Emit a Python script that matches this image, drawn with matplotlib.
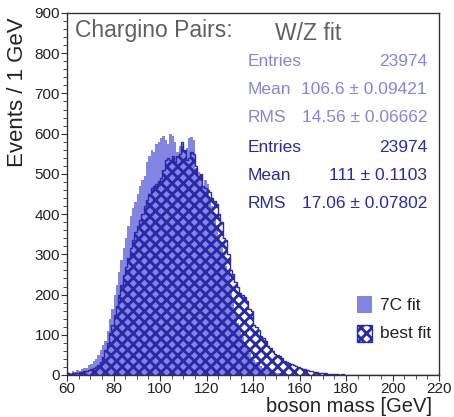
import numpy as np
import matplotlib.pyplot as plt
from matplotlib.ticker import MultipleLocator

# 1 GeV bins from 60 to 220
edges = np.arange(60, 221, 1)

# 7C fit (light filled histogram), bins 60..159, rest zero
fit7c = [8, 4, 9, 7, 12, 10, 16, 18, 17, 24,            # 60-69
         28, 34, 40, 50, 62, 75, 85, 110, 140, 165,     # 70-79
         200, 225, 255, 285, 315, 340, 370, 395, 415, 430,   # 80-89
         450, 470, 485, 495, 530, 545, 560, 555, 575, 580,   # 90-99
         590, 595, 585, 575, 600, 595, 580, 555, 570, 575,   # 100-109
         560, 565, 590, 592, 585, 515, 505, 500, 470, 485,   # 110-119
         475, 440, 420, 395, 370, 345, 320, 295, 270, 250,   # 120-129
         225, 185, 150, 130, 110, 95, 80, 65, 55, 45,        # 130-139
         38, 32, 27, 22, 18, 15, 12, 10, 8, 7,               # 140-149
         6, 5, 4, 3, 3, 2, 2, 1, 1, 1]                       # 150-159
fit7c = fit7c + [0] * (160 - len(fit7c))

# best fit (hatched histogram)
best = [5, 3, 6, 4, 5, 7, 8, 9, 11, 12,                 # 60-69
        14, 17, 20, 26, 32, 45, 62, 80, 105, 125,       # 70-79
        150, 172, 200, 225, 248, 268, 290, 315, 335, 355,   # 80-89
        370, 385, 400, 420, 435, 450, 465, 470, 475, 482,   # 90-99
        490, 510, 535, 540, 535, 545, 530, 545, 550, 580,   # 100-109
        560, 535, 540, 555, 550, 520, 495, 500, 470, 465,   # 110-119
        460, 455, 440, 432, 425, 400, 380, 340, 335, 300,   # 120-129
        260, 250, 230, 220, 205, 200, 195, 185, 165, 160,   # 130-139
        125, 120, 112, 96, 92, 84, 72, 68, 60, 52,          # 140-149
        50, 46, 42, 36, 33, 30, 28, 25, 22, 20,             # 150-159
        18, 16, 15, 12, 11, 10, 8, 8, 6, 5,                 # 160-169
        5, 4, 3, 3, 2, 3, 2, 1, 2, 1,                       # 170-179
        1, 0, 1, 0, 0, 1, 0, 1, 0, 0,                       # 180-189
        1, 0, 0, 0, 0, 0, 0, 0, 0, 0,                       # 190-199
        1]                                                  # 200
best = best + [0] * (160 - len(best))

stats_light = [("Entries", "23974"), ("Mean", "106.6 \u00b1 0.09421"), ("RMS", "14.56 \u00b1 0.06662")]
stats_dark = [("Entries", "23974"), ("Mean", "111 \u00b1 0.1103"), ("RMS", "17.06 \u00b1 0.07802")]

LIGHT = '#8484e2'
DARK = '#2a2aa8'
W, H = 454, 417

plt.rcParams['font.family'] = ['Liberation Sans', 'DejaVu Sans']
plt.rcParams['hatch.linewidth'] = 2.1

fig = plt.figure(figsize=(W / 100, H / 100), dpi=100)
ax = fig.add_axes([67 / W, 1 - 375 / H, (439 - 67) / W, (375 - 13) / H])

ax.stairs(fit7c, edges, fill=True, color=LIGHT, zorder=1)
ax.stairs(best, edges, fill=True, facecolor='none', edgecolor=DARK, hatch='xxx',
          linewidth=0, zorder=2)
ax.stairs(best, edges, color=DARK, linewidth=1.0, zorder=3)

ax.set_xlim(60, 220)
ax.set_ylim(0, 900)
ax.xaxis.set_major_locator(MultipleLocator(20))
ax.xaxis.set_minor_locator(MultipleLocator(5))
ax.yaxis.set_major_locator(MultipleLocator(100))
ax.yaxis.set_minor_locator(MultipleLocator(20))
ax.tick_params(which='both', direction='out', color='#333333', labelsize=11,
               labelcolor='#222222', pad=0.5)
ax.tick_params(which='major', length=4.5)
ax.tick_params(which='minor', length=3)
for s in ax.spines.values():
    s.set_color('#333333')
    s.set_linewidth(1.0)

fig.text(432 / W, 1 - 406 / H, 'boson mass [GeV]', ha='right', va='center',
         fontsize=14.5, color='#222222')
fig.text(18 / W, 1 - 17 / H, 'Events / 1 GeV', ha='center', va='top',
         rotation=90, fontsize=16, color='#222222')

fig.text(75 / W, 1 - 30 / H, 'Chargino Pairs:', ha='left', va='center',
         fontsize=16.5, color='#606060')
fig.text(275 / W, 1 - 33 / H, 'W/Z fit', ha='left', va='center',
         fontsize=16.5, color='#606060')

ys = [62, 90, 118, 147, 175, 203]
rows = [(r, LIGHT) for r in stats_light] + [(r, DARK) for r in stats_dark]
for y, ((lab, val), col) in zip(ys, rows):
    fig.text(248 / W, 1 - y / H, lab, ha='left', va='center', fontsize=12.5, color=col)
    fig.text(427 / W, 1 - y / H, val, ha='right', va='center', fontsize=12.5, color=col)

# legend boxes
lax = fig.add_axes([0, 0, 1, 1], facecolor='none')
lax.set_xlim(0, W)
lax.set_ylim(H, 0)
lax.axis('off')
lax.add_patch(plt.Rectangle((357, 296), 15, 17, facecolor=LIGHT, edgecolor='none'))
lax.add_patch(plt.Rectangle((357, 325), 15, 17, facecolor='none', edgecolor=DARK,
                            hatch='xxx', linewidth=1.0))
lax.text(380, 305, '7C fit', ha='left', va='center', fontsize=12.5, color='#222222')
lax.text(380, 334, 'best fit', ha='left', va='center', fontsize=12.5, color='#222222')

fig.savefig('out.png', dpi=100)
